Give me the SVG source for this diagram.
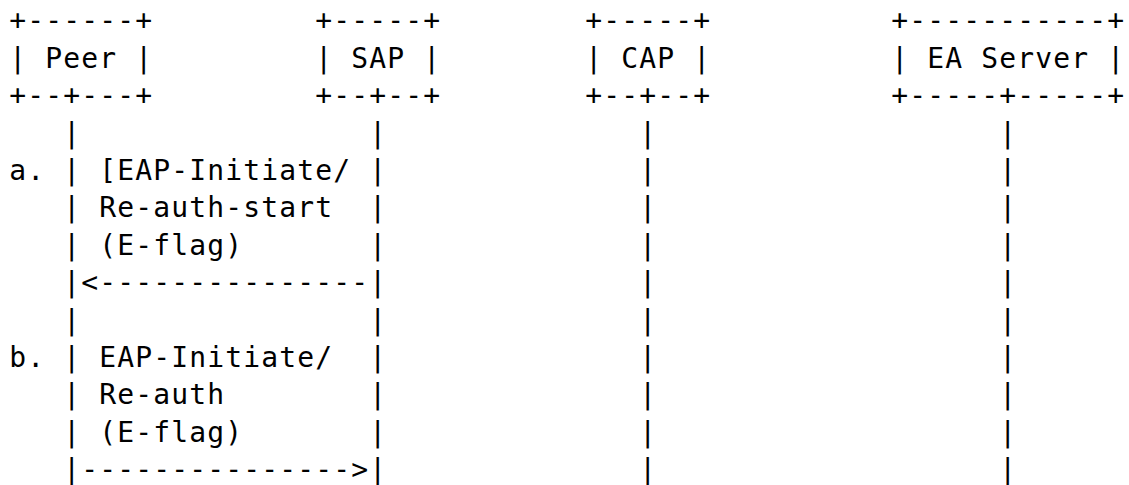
<svg xmlns="http://www.w3.org/2000/svg" width="1129" height="485" viewBox="0 0 1129 485">
  <style>
    text { font-family: "DejaVu Sans Mono", "Liberation Mono", monospace; font-size: 28px; letter-spacing: 1.14px; fill: #000; white-space: pre; }
  </style>
  <rect width="1129" height="485" fill="#fff"/>

  <!-- participant boxes: cell width 18px, row pitch 37.4px -->
  <g id="peer">
    <text x="9.27" y="30.4" xml:space="preserve">+------+</text>
    <text x="9.27" y="67.8" xml:space="preserve">| Peer |</text>
    <text x="9.27" y="105.2" xml:space="preserve">+--+---+</text>
  </g>
  <g id="sap">
    <text x="315.27" y="30.4" xml:space="preserve">+-----+</text>
    <text x="315.27" y="67.8" xml:space="preserve">| SAP |</text>
    <text x="315.27" y="105.2" xml:space="preserve">+--+--+</text>
  </g>
  <g id="cap">
    <text x="585.27" y="30.4" xml:space="preserve">+-----+</text>
    <text x="585.27" y="67.8" xml:space="preserve">| CAP |</text>
    <text x="585.27" y="105.2" xml:space="preserve">+--+--+</text>
  </g>
  <g id="ea-server">
    <text x="891.27" y="30.4" xml:space="preserve">+-----------+</text>
    <text x="891.27" y="67.8" xml:space="preserve">| EA Server |</text>
    <text x="891.27" y="105.2" xml:space="preserve">+-----+-----+</text>
  </g>

  <!-- lifelines and message arrows -->
  <g id="connectors">
    <text id="peer-line">
      <tspan x="63.27" y="142.6">|</tspan><tspan x="63.27" y="180">|</tspan><tspan x="63.27" y="217.4">|</tspan><tspan x="63.27" y="254.8">|</tspan><tspan x="63.27" y="292.2">|</tspan><tspan x="63.27" y="329.6">|</tspan><tspan x="63.27" y="367">|</tspan><tspan x="63.27" y="404.4">|</tspan><tspan x="63.27" y="441.8">|</tspan><tspan x="63.27" y="479.2">|</tspan>
    </text>
    <text id="sap-line">
      <tspan x="369.27" y="142.6">|</tspan><tspan x="369.27" y="180">|</tspan><tspan x="369.27" y="217.4">|</tspan><tspan x="369.27" y="254.8">|</tspan><tspan x="369.27" y="292.2">|</tspan><tspan x="369.27" y="329.6">|</tspan><tspan x="369.27" y="367">|</tspan><tspan x="369.27" y="404.4">|</tspan><tspan x="369.27" y="441.8">|</tspan><tspan x="369.27" y="479.2">|</tspan>
    </text>
    <text id="cap-line">
      <tspan x="639.27" y="142.6">|</tspan><tspan x="639.27" y="180">|</tspan><tspan x="639.27" y="217.4">|</tspan><tspan x="639.27" y="254.8">|</tspan><tspan x="639.27" y="292.2">|</tspan><tspan x="639.27" y="329.6">|</tspan><tspan x="639.27" y="367">|</tspan><tspan x="639.27" y="404.4">|</tspan><tspan x="639.27" y="441.8">|</tspan><tspan x="639.27" y="479.2">|</tspan>
    </text>
    <text id="ea-line">
      <tspan x="999.27" y="142.6">|</tspan><tspan x="999.27" y="180">|</tspan><tspan x="999.27" y="217.4">|</tspan><tspan x="999.27" y="254.8">|</tspan><tspan x="999.27" y="292.2">|</tspan><tspan x="999.27" y="329.6">|</tspan><tspan x="999.27" y="367">|</tspan><tspan x="999.27" y="404.4">|</tspan><tspan x="999.27" y="441.8">|</tspan><tspan x="999.27" y="479.2">|</tspan>
    </text>
    <!-- SAP to Peer -->
    <text id="msg-a" x="81.27" y="292.2" xml:space="preserve">&lt;---------------</text>
    <!-- Peer to SAP -->
    <text id="msg-b" x="81.27" y="479.2" xml:space="preserve">---------------&gt;</text>
  </g>

  <!-- message labels -->
  <g id="labels">
    <text x="9.27" y="180">a.</text>
    <text x="99.27" y="180">[EAP-Initiate/</text>
    <text x="99.27" y="217.4">Re-auth-start</text>
    <text x="99.27" y="254.8">(E-flag)</text>
    <text x="9.27" y="367">b.</text>
    <text x="99.27" y="367">EAP-Initiate/</text>
    <text x="99.27" y="404.4">Re-auth</text>
    <text x="99.27" y="441.8">(E-flag)</text>
  </g>
</svg>
